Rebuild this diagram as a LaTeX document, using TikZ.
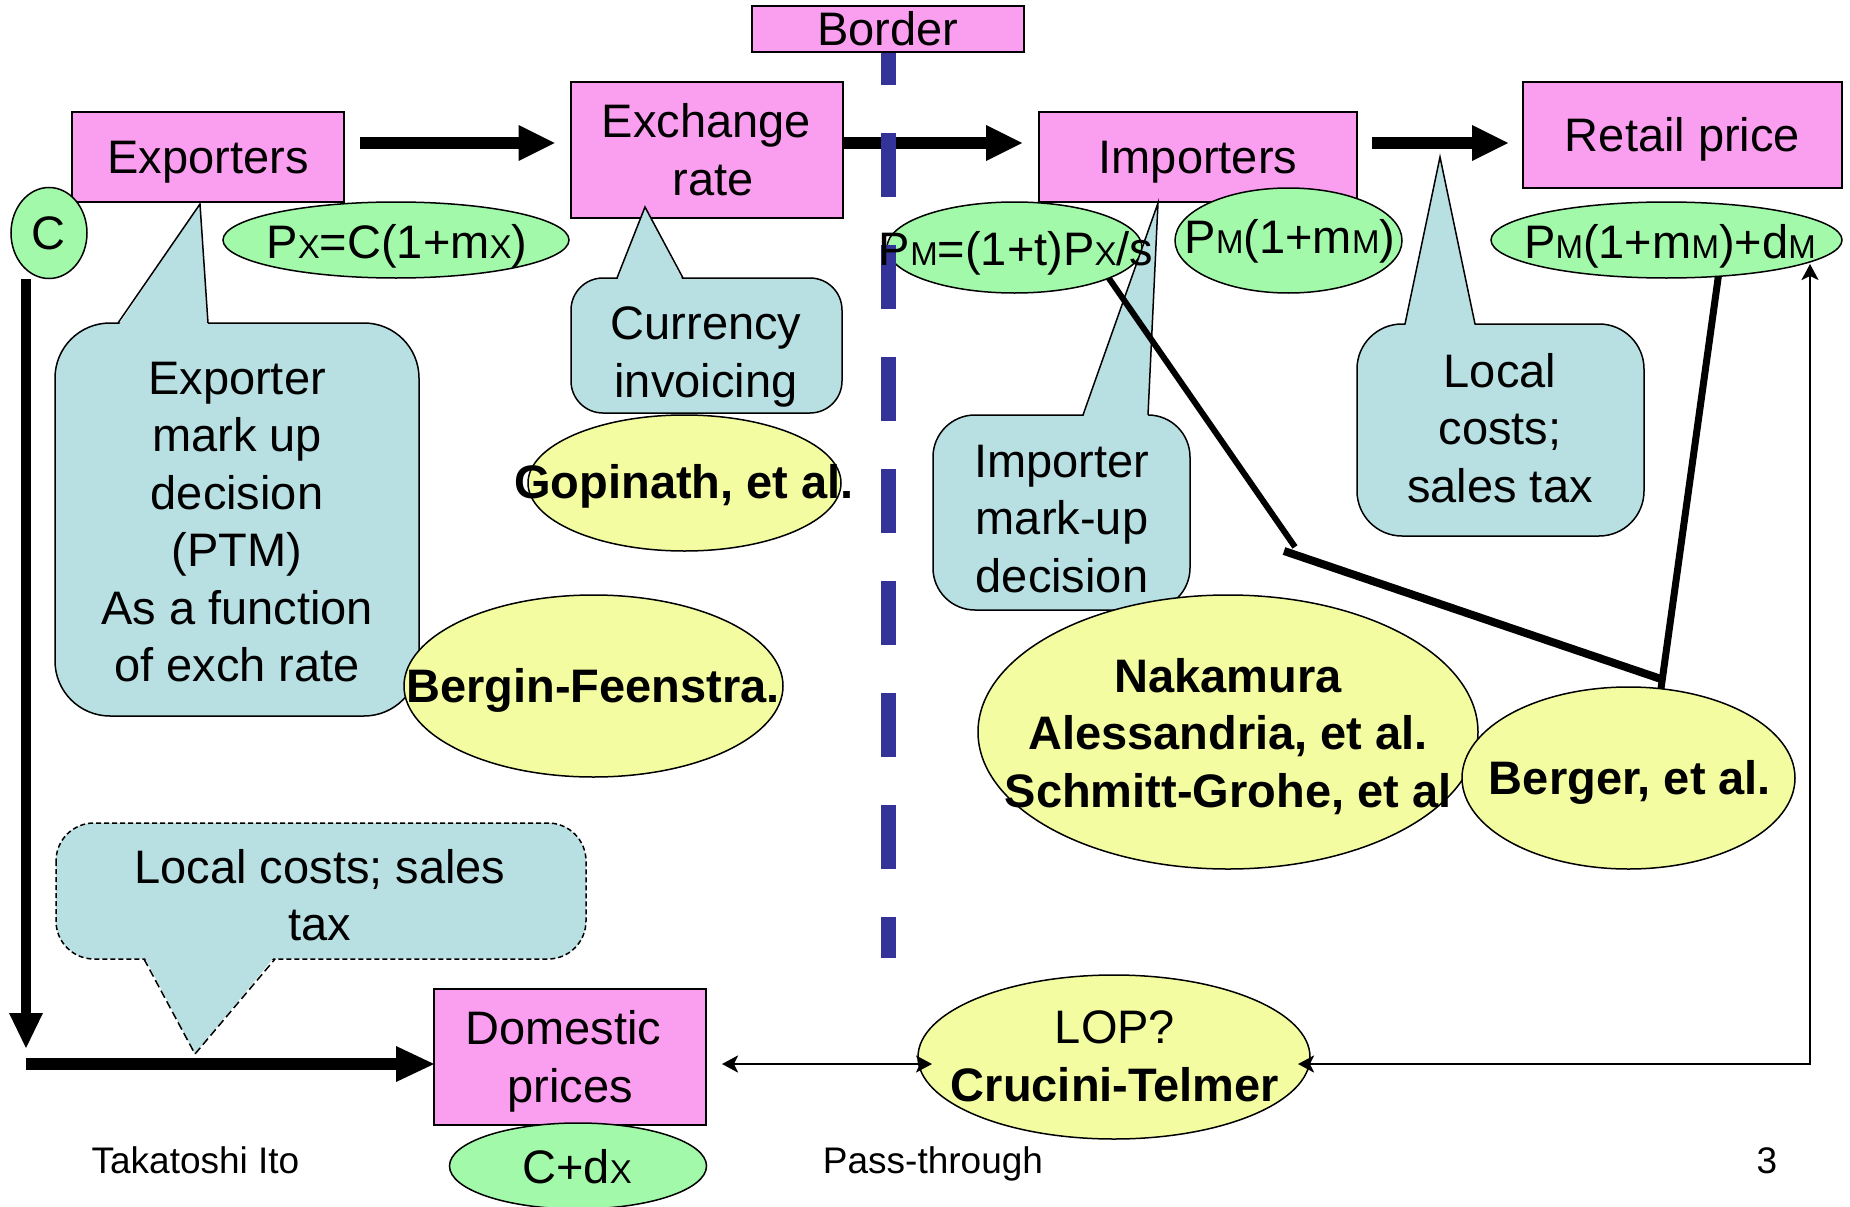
\documentclass[tikz,border=0pt]{standalone}
\usepackage{fontspec}
\setmainfont{Liberation Sans}
\usetikzlibrary{shapes.geometric,arrows.meta}
\definecolor{pinkc}{HTML}{FA9EEF}
\definecolor{greenc}{HTML}{A3F9AA}
\definecolor{yellowc}{HTML}{F3FCA0}
\definecolor{calloutc}{HTML}{B8DFE2}
\definecolor{borderblue}{HTML}{333399}
\newcommand\smc[1]{{\fontsize{33}{33}\selectfont #1}}
\newcommand\mainsz{\fontsize{47}{57.5}\selectfont}
\newcommand\footsz{\fontsize{37}{44}\selectfont}
\newcommand\lstrut{\rule[-0.212em]{0pt}{1.117em}}
\begin{document}
\begin{tikzpicture}[x=1pt,y=-1pt,
 every node/.style={font=\mainsz,align=center,inner sep=0pt,outer sep=0pt},
 pbox/.style={draw,fill=pinkc,line width=2pt},
 gell/.style={ellipse,draw,fill=greenc,line width=1.5pt},
 yell/.style={ellipse,draw,fill=yellowc,line width=1.5pt},
 cbody/.style={fill=calloutc,draw=black,line width=1.5pt},
 cedge/.style={draw=black,line width=1.5pt},
 bigarrow/.style={line width=12pt,-{Triangle[length=36pt,width=36pt,line width=0pt]}},
 thinarrow/.style={line width=2.5pt,{Stealth[length=16pt,width=17pt,inset=4pt]}-{Stealth[length=16pt,width=17pt,inset=4pt]}},
 thickline/.style={line width=7pt},
 boldtext/.style={font=\mainsz\bfseries},
 foot/.style={font=\footsz,anchor=base}
]
\useasboundingbox (0,0) rectangle (1850,1207);
\fill[white] (0,0) rectangle (1850,1207);

% boxes
\node[pbox,minimum width=272,minimum height=90] (exporters) at (208,157) {\lstrut Exporters};
\node[pbox,minimum width=272,minimum height=136] (exch) at (706.5,150) {\lstrut Exchange\\\lstrut\hspace*{13pt}rate};
\node[pbox,minimum width=318,minimum height=90] (importers) at (1198,157) {\lstrut Importers};
\node[pbox,minimum width=319,minimum height=106] (retail) at (1682.5,135) {\lstrut Retail price};
\node[pbox,minimum width=272,minimum height=136] (domestic) at (570,1057) {\lstrut Domestic\hspace*{13pt}\\\lstrut prices};

% big arrows
\draw[bigarrow] ([xshift=16pt,yshift=14pt]exporters.east) -- ([xshift=-16pt,yshift=7pt]exch.west);
\draw[bigarrow] ([yshift=7pt]exch.east) -- ([xshift=-17pt,yshift=14pt]importers.west);
\draw[bigarrow] ([xshift=15pt,yshift=14pt]importers.east) -- ([xshift=-15pt,yshift=-8pt]retail.west);

% green ellipses
\node[gell,minimum width=76,minimum height=91] (C) at (49,233) {};
\node[gell,minimum width=346,minimum height=76] (px) at (396,240) {};
\node[gell,minimum width=255,minimum height=91] (pmx) at (1014.5,247.5) {};
\node[gell,minimum width=227,minimum height=105] (pmm) at (1288.5,240.5) {};
\node[gell,minimum width=351,minimum height=76] (retell) at (1666.5,240) {};
\node[gell,minimum width=257,minimum height=86] (cdx) at (578,1166) {};

% C arrows
\coordinate (vtip) at (26,1048);
\draw[line width=10pt,-{Triangle[length=35pt,width=34pt,line width=0pt]}] ([xshift=-23pt]C.south) -- (vtip);
\coordinate (hstart) at (26,1064);
\draw[line width=12pt,-{Triangle[length=38pt,width=36pt,line width=0pt]}] (hstart) -- ([yshift=-7pt]domestic.west);

% callouts
\draw[cbody,rounded corners=55pt] (55,323) rectangle (419,716);
\fill[calloutc] (118,326) -- (200,204) -- (208,326) -- cycle;
\draw[cedge] (118,323) -- (200,204) -- (208,323);

\draw[cbody,rounded corners=32pt] (571,278) rectangle (842,413);
\fill[calloutc] (617,281) -- (645,207) -- (683,281) -- cycle;
\draw[cedge] (617,278) -- (645,207) -- (683,278);

\draw[cbody,rounded corners=42pt] (933,415) rectangle (1190,610);
\fill[calloutc] (1083,418) -- (1158,203) -- (1148,418) -- cycle;
\draw[cedge] (1083,415) -- (1158,203) -- (1148,415);

\draw[cbody,rounded corners=45pt] (1357,324) rectangle (1644,536);
\fill[calloutc] (1405,327) -- (1440,157) -- (1475,327) -- cycle;
\draw[cedge] (1405,324) -- (1440,157) -- (1475,324);

\draw[cbody,rounded corners=38pt,dash pattern=on 5pt off 3pt] (56,823) rectangle (586,959);
\fill[calloutc] (144,956) -- (195,1054) -- (275,956) -- cycle;
\draw[cedge,dash pattern=on 8pt off 4pt] (144,959) -- (195,1054) -- (275,959);

% yellow ellipses
\node[yell,minimum width=313,minimum height=136] (gop) at (684.5,483) {};
\node[yell,minimum width=379,minimum height=182] (bergin) at (593.5,686) {};
\node[yell,minimum width=500,minimum height=274] (naka) at (1228,732) {};
\node[yell,minimum width=333,minimum height=182] (berger) at (1628.5,778) {};
\node[yell,minimum width=392,minimum height=164] (lop) at (1114,1057) {};

% border line
\coordinate (bordEnd) at (888,958);
\node[minimum width=0,minimum height=0] (bordTop) at (888,29) {};
\draw[borderblue,line width=15pt,dash pattern=on 64pt off 48pt,dash phase=8pt] (bordTop) -- (bordEnd);
\node[pbox,minimum width=272,minimum height=46] (border) at (888,29) {Border};

% thick black connectors
\coordinate (j1) at (1295,547);
\coordinate (j2) at (1284,551);
\coordinate (j3) at (1661,679);
\draw[line width=6pt] (pmx.-18) -- (j1);
\draw[line width=8pt] (j2) -- (j3);
\draw[thickline] (retell.-35) -- (berger.70);

% thin arrows
\draw[thinarrow] ([xshift=16pt,yshift=-7pt]domestic.east) -- ([xshift=14pt,yshift=-7pt]lop.west);
\coordinate (rettip) at (1810,264);
\draw[thinarrow] ([xshift=-12pt,yshift=-7pt]lop.east) -| (rettip);

% texts of green ellipses
\node (Ct) at (48,233.5) {C};
\node (pxt) at (397,246) {P\smc{X}=C(1+m\smc{X})};
\node (pmxt) at (1016,253) {P\smc{M}=(1+t)P\smc{X}/s};
\node (pmmt) at (1290,241) {P\smc{M}(1+m\smc{M})};
\node (retellt) at (1670,246) {P\smc{M}(1+m\smc{M})+d\smc{M}};
\node (cdxt) at (577,1167) {C+d\smc{X}};

% callout texts
\node (expt) at (237,522) {Exporter\\mark up\\decision\\(PTM)\\As a function\\of exch rate};
\node (curt) at (706,357) {Currency\\invoicing};
\node (impt) at (1062,519) {Importer\\mark-up\\decision};
\node (loct) at (1500,428) {Local\\costs;\\sales tax};
\node (loc2t) at (320,895) {Local costs; sales\\tax};

% yellow texts
\node[boldtext] (gopt) at (684,486) {Gopinath, et al.};
\node[boldtext] (bergint) at (593,690) {Bergin-Feenstra.};
\node[boldtext] (nakat) at (1228,736.5) {Nakamura\\Alessandria, et al.\\Schmitt-Grohe, et al};
\node[boldtext] (bergert) at (1630,782) {Berger, et al.};
\node (lopt) at (1115,1056.5) {LOP?\\\textbf{Crucini-Telmer}};

% footer
\node[foot] (author) at (195.5,1173) {Takatoshi Ito};
\node[foot] (title) at (933,1173) {Pass-through};
\node[foot] (page) at (1767,1173) {3};
\end{tikzpicture}
\end{document}
